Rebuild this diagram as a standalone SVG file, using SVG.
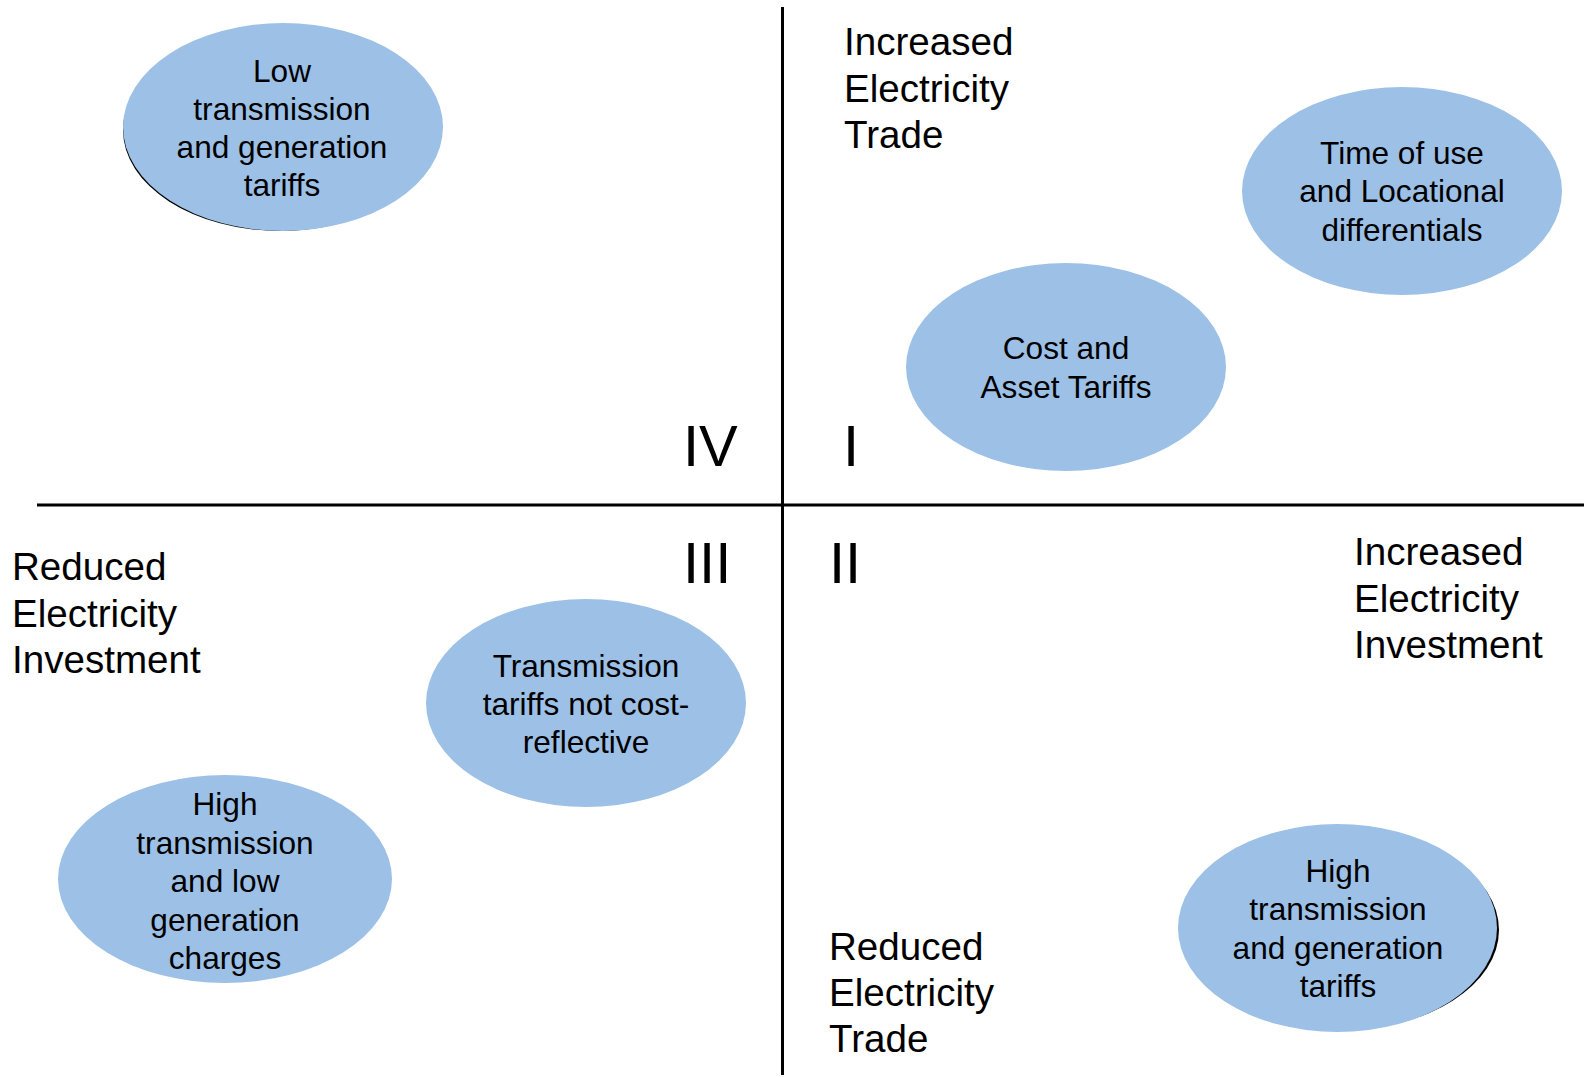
<svg xmlns="http://www.w3.org/2000/svg" width="1584" height="1077" viewBox="0 0 1584 1077">
<style>
.bub{fill:#9dc0e6;}
.sh{fill:#000;}
.t{font-family:"Liberation Sans",Arial,sans-serif;font-size:31.6px;fill:#000;text-anchor:middle;}
.lab{font-family:"Liberation Sans",Arial,sans-serif;font-size:38.6px;fill:#000;}
.num{font-family:"Liberation Sans",Arial,sans-serif;font-size:58px;fill:#000;}
.ax{stroke:#000;stroke-width:3;fill:none;}
</style>
<rect width="1584" height="1077" fill="#fff"/>
<g id="connectors">
<line class="ax" x1="782.5" y1="7" x2="782.5" y2="1075"/>
<line class="ax" x1="37" y1="505" x2="1584" y2="505"/>
</g>
<g id="labels">
<text class="lab" x="844" y="55">Increased</text>
<text class="lab" x="844" y="102">Electricity</text>
<text class="lab" x="844" y="148">Trade</text>
<text class="lab" x="12" y="580">Reduced</text>
<text class="lab" x="12" y="627">Electricity</text>
<text class="lab" x="12" y="673">Investment</text>
<text class="lab" x="1354" y="565">Increased</text>
<text class="lab" x="1354" y="612">Electricity</text>
<text class="lab" x="1354" y="658">Investment</text>
<text class="lab" x="829" y="960">Reduced</text>
<text class="lab" x="829" y="1006">Electricity</text>
<text class="lab" x="829" y="1052">Trade</text>
<text class="num" x="683" y="466">IV</text>
<text class="num" x="843" y="466">I</text>
<text class="num" x="683" y="583">III</text>
<text class="num" x="829" y="583">II</text>
</g>
<g id="node-low-transmission">
<ellipse class="sh" cx="280" cy="130" rx="157" ry="101"/>
<ellipse class="bub" cx="283" cy="127" rx="160" ry="104"/>
<text class="t" x="282" y="82">Low</text>
<text class="t" x="282" y="120">transmission</text>
<text class="t" x="282" y="158">and generation</text>
<text class="t" x="282" y="196">tariffs</text>
</g>
<g id="node-time-of-use">
<ellipse class="bub" cx="1402" cy="191" rx="160" ry="104"/>
<text class="t" x="1402" y="164">Time of use</text>
<text class="t" x="1402" y="202">and Locational</text>
<text class="t" x="1402" y="241">differentials</text>
</g>
<g id="node-cost-asset">
<ellipse class="bub" cx="1066" cy="367" rx="160" ry="104"/>
<text class="t" x="1066" y="359">Cost and</text>
<text class="t" x="1066" y="398">Asset Tariffs</text>
</g>
<g id="node-transmission-not-cost-reflective">
<ellipse class="bub" cx="586" cy="703" rx="160" ry="104"/>
<text class="t" x="586" y="677">Transmission</text>
<text class="t" x="586" y="715">tariffs not cost-</text>
<text class="t" x="586" y="753">reflective</text>
</g>
<g id="node-high-transmission-low-generation">
<ellipse class="bub" cx="225" cy="879" rx="167" ry="104"/>
<text class="t" x="225" y="815">High</text>
<text class="t" x="225" y="854">transmission</text>
<text class="t" x="225" y="892">and low</text>
<text class="t" x="225" y="931">generation</text>
<text class="t" x="225" y="969">charges</text>
</g>
<g id="node-high-transmission-generation">
<ellipse class="sh" cx="1341" cy="930" rx="158" ry="100"/>
<ellipse class="bub" cx="1337.5" cy="928" rx="159.5" ry="104"/>
<text class="t" x="1338" y="882">High</text>
<text class="t" x="1338" y="920">transmission</text>
<text class="t" x="1338" y="959">and generation</text>
<text class="t" x="1338" y="997">tariffs</text>
</g>
</svg>
